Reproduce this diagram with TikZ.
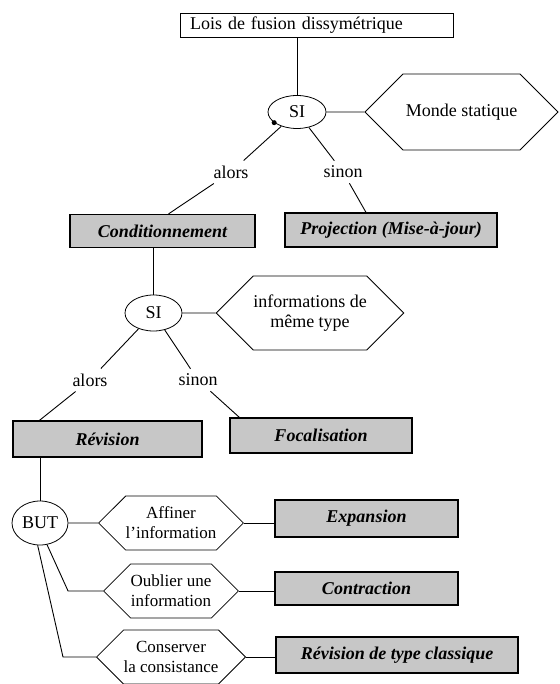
\documentclass[tikz,border=0pt]{standalone}
\usepackage{fontspec}
\setmainfont{Liberation Serif}
\usetikzlibrary{shapes.symbols,shapes.geometric}
\begin{document}
\begin{tikzpicture}[x=1pt,y=-1pt,
  every node/.style={font=\fontsize{18}{20}\selectfont},
  titre/.style={draw,line width=0.8pt,minimum height=24pt,inner xsep=10pt,inner ysep=0pt},
  si/.style={draw,ellipse,line width=0.8pt,inner sep=0pt},
  hexa/.style={draw,signal,signal to=west and east,line width=0.8pt,align=center,inner sep=0pt},
  petit/.style={font=\fontsize{17}{20}\selectfont},
  resultat/.style={draw,line width=1.2pt,fill=black!22,inner sep=0pt,font=\fontsize{18}{20}\selectfont\bfseries\itshape},
  mot/.style={inner sep=5pt},
  lien/.style={line width=0.9pt}]
 \useasboundingbox (0,0) rectangle (559,684);
 % premier choix
 \node[titre,text width=253pt,align=left] (lois) at (316.5,25) {Lois de fusion dissymétrique};
 \node[si,minimum width=58pt,minimum height=33pt] (si1) at (297,112) {SI};
 \node[hexa,minimum width=193pt,minimum height=76pt] (monde) at (461.5,112) {Monde statique};
 \node[mot] (alors1) at (231,172) {alors};
 \node[mot] (sinon1) at (343,172) {sinon};
 \node[resultat,minimum width=185pt,minimum height=33pt] (cond) at (162.5,231) {Conditionnement};
 \node[resultat,minimum width=212pt,minimum height=34pt] (proj) at (391,230) {Projection (Mise-à-jour)};
 %
 \draw[lien] (lois.south -| si1.north) -- (si1.north);
 \draw[lien] (si1) -- (monde);
 \draw[lien] (si1) -- (alors1);
 \draw[lien] (si1) -- (sinon1);
 \draw[lien] (alors1) -- ([xshift=6pt]cond.north);
 \draw[lien] (sinon1) -- ([xshift=-25pt]proj.north);
 \fill (si1.205) circle (2.5pt);
 % second choix
 \node[si,minimum width=57pt,minimum height=36pt] (si2) at (153.5,313) {SI};
 \node[hexa,minimum width=180pt,minimum height=74pt] (info) at (310,313) {informations de\\même type};
 \node[mot] (alors2) at (90,380) {alors};
 \node[mot] (sinon2) at (198,380) {sinon};
 \node[resultat,minimum width=189pt,minimum height=36pt] (rev) at (107.5,439) {Révision};
 \node[resultat,minimum width=182pt,minimum height=35pt] (foc) at (321,435.5) {Focalisation};
 %
 \draw[lien] (cond.south -| si2.north) -- (si2.north);
 \draw[lien] (si2) -- (info);
 \draw[lien] (si2) -- (alors2);
 \draw[lien] (si2) -- (sinon2);
 \draw[lien] (alors2) -- ([xshift=27pt]rev.north west);
 \draw[lien] (sinon2) -- ([xshift=10pt]foc.north west);
 % buts de la revision
 \node[si,minimum width=56pt,minimum height=44pt] (but) at (40,523) {BUT};
 \foreach \nom/\y/\txt in {aff/523/{Affiner\\l'information},oub/591/{Oublier une\\information},cons/657/{Conserver\\la consistance}}
  \node[hexa,petit,minimum width=134pt,minimum height=54pt] (\nom) at (171,\y) {\txt};
 \node[resultat,minimum width=183pt,minimum height=37pt] (exp) at (366.5,518.5) {Expansion};
 \node[resultat,minimum width=183pt,minimum height=33pt] (con) at (366.5,588.5) {Contraction};
 \node[resultat,minimum width=242pt,minimum height=36pt] (cla) at (397,655) {Révision de type classique};
 %
 \draw[lien] (rev.south -| but.north) -- (but.north);
 \draw[lien] (but) -- (aff);
 \draw[lien] (but.-72) -- ([xshift=-35pt]oub.west) -- (oub.west);
 \draw[lien] (but.-96) -- ([xshift=-33pt]cons.west) -- (cons.west);
 \foreach \a/\b in {aff/exp,oub/con,cons/cla}
  \draw[lien] (\a.east) -- (\a.east -| \b.west);
\end{tikzpicture}
\end{document}
